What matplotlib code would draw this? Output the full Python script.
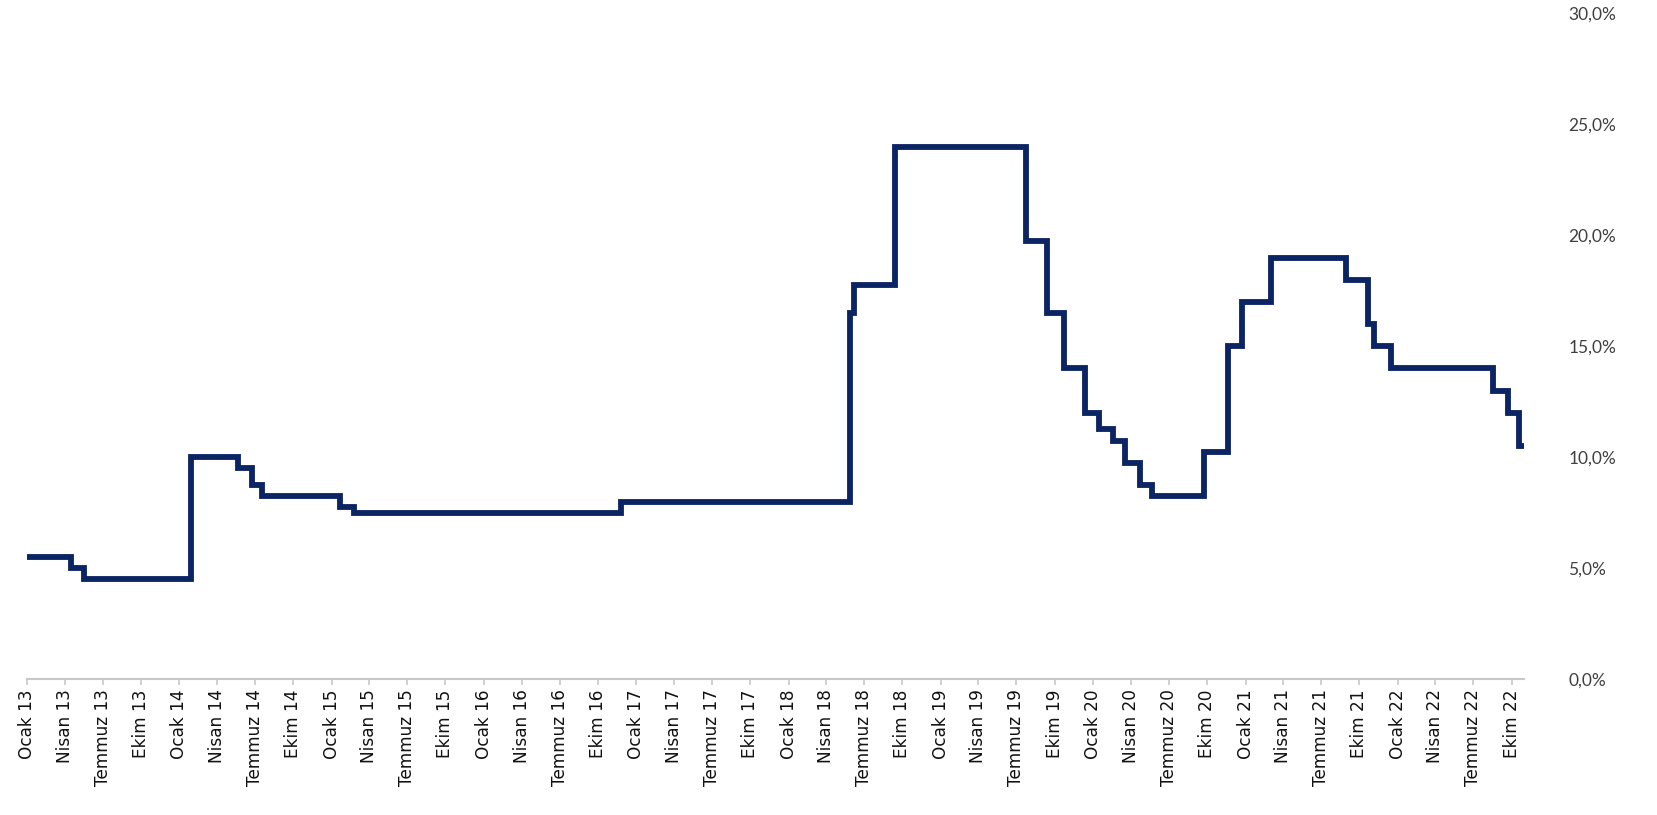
import numpy as np
import pandas as pd
import matplotlib
matplotlib.use("Agg")
import matplotlib.pyplot as plt
import matplotlib.dates as mdates
from matplotlib.ticker import FuncFormatter, FixedLocator

# politika faizi degisim tarihleri ve seviyeleri (%)
change_dates = [
    "2013-01-01", "2013-04-16", "2013-05-16", "2014-01-28", "2014-05-22",
    "2014-06-24", "2014-07-17", "2015-01-20", "2015-02-24", "2016-11-24",
    "2018-05-29", "2018-06-07", "2018-09-13", "2019-07-25", "2019-09-12",
    "2019-10-24", "2019-12-12", "2020-01-16", "2020-02-19", "2020-03-17",
    "2020-04-22", "2020-05-21", "2020-09-24", "2020-11-19", "2020-12-24",
    "2021-03-03", "2021-08-31", "2021-10-22", "2021-11-04", "2021-12-16",
    "2022-08-18", "2022-09-22", "2022-10-20",
]
rates = [
    5.50, 5.00, 4.50, 10.00, 9.50,
    8.75, 8.25, 7.75, 7.50, 8.00,
    16.50, 17.75, 24.00, 19.75, 16.50,
    14.00, 12.00, 11.25, 10.75, 9.75,
    8.75, 8.25, 10.25, 15.00, 17.00,
    19.00, 18.00, 16.00, 15.00, 14.00,
    13.00, 12.00, 10.50,
]
series_end = "2022-10-31"

month_names = {1: "Ocak", 4: "Nisan", 7: "Temmuz", 10: "Ekim"}
y_ticks = [0, 5, 10, 15, 20, 25, 30]

x = pd.to_datetime(change_dates + [series_end])
y = rates + [rates[-1]]

fig = plt.figure(figsize=(16.58, 8.15), dpi=100)
ax = fig.add_axes([0.01647, 0.1669, 0.9192 - 0.01647, 0.9833 - 0.1669])

ax.step(x, y, where="post", color="#0b2463", lw=4.2,
        solid_joinstyle="miter", solid_capstyle="butt", clip_on=False)

ax.set_xlim(pd.Timestamp("2013-01-01"), pd.Timestamp(series_end))
ax.set_ylim(0, 30)

# x ekseni: 3 ayda bir etiket
ax.xaxis.set_major_locator(mdates.MonthLocator(bymonth=[1, 4, 7, 10]))
ax.xaxis.set_major_formatter(FuncFormatter(
    lambda v, pos: f"{month_names[mdates.num2date(v).month]} {mdates.num2date(v).year % 100:02d}"))
ax.tick_params(axis="x", direction="out", length=4.5, width=1.2, color="#c8c8c8",
               pad=3, labelsize=12.2, labelcolor="#111111", labelrotation=90)

# y ekseni sagda
ax.yaxis.tick_right()
ax.yaxis.set_major_locator(FixedLocator(y_ticks))
ax.yaxis.set_major_formatter(FuncFormatter(lambda v, pos: f"{v:.1f}%".replace(".", ",")))
ax.tick_params(axis="y", length=0, pad=32, labelsize=12.5, labelcolor="#404040")
for lab in ax.get_yticklabels():
    lab.set_fontfamily("Lato")

for s in ["top", "left", "right"]:
    ax.spines[s].set_visible(False)
ax.spines["bottom"].set_color("#c8c8c8")
ax.spines["bottom"].set_linewidth(1.5)

fig.savefig("out.png", dpi=100, facecolor="white")
print("guardado: out.png")
